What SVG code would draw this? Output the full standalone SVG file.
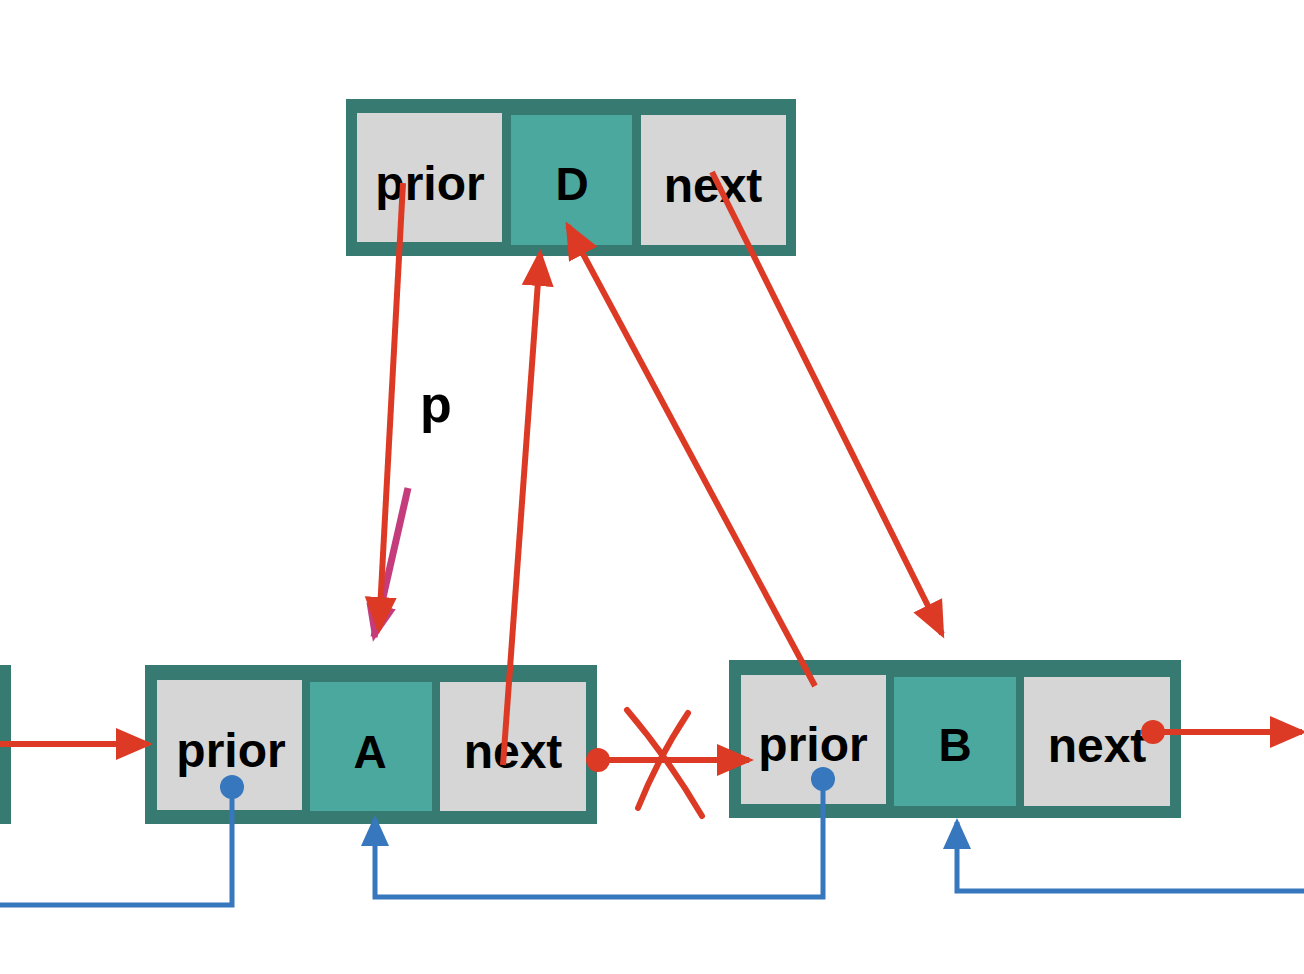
<svg xmlns="http://www.w3.org/2000/svg" width="1304" height="974" viewBox="0 0 1304 974">
<style>
.outer{fill:#367a72}
.cell{fill:#d6d6d6}
.mid{fill:#4aa89e}
.lbl{font-family:"Liberation Sans",Arial,sans-serif;font-weight:bold;font-size:48px;fill:#000;text-anchor:middle}
.key{font-family:"Liberation Sans",Arial,sans-serif;font-weight:bold;font-size:46px;fill:#000;text-anchor:middle}
.red{stroke:#dc3a25;stroke-width:6;fill:none}
.blue{stroke:#3777bd;stroke-width:5;fill:none}
.mag{stroke:#c43c7c;stroke-width:7;fill:none}
</style>
<defs>
<marker id="ar" markerUnits="userSpaceOnUse" markerWidth="38" markerHeight="34" viewBox="0 0 38 34" refX="32" refY="17" orient="auto"><path d="M0,1 L37,17 L0,33 z" fill="#dc3a25"/></marker>
<marker id="am" markerUnits="userSpaceOnUse" markerWidth="38" markerHeight="34" viewBox="0 0 38 34" refX="32" refY="17" orient="auto"><path d="M0,2 L37,17 L0,32 z" fill="#c43c7c"/></marker>
<marker id="ab" markerUnits="userSpaceOnUse" markerWidth="32" markerHeight="30" viewBox="0 0 32 30" refX="27" refY="15" orient="auto"><path d="M0,1 L31,15 L0,29 z" fill="#3777bd"/></marker>
</defs>
<rect width="1304" height="974" fill="#fff"/>
<g id="node-left"><rect class="outer" x="0" y="665" width="11" height="159"/></g>
<g id="node-D">
<rect class="outer" x="346" y="99" width="450" height="157"/>
<rect class="cell" x="357" y="113" width="145" height="129"/>
<rect class="mid" x="511" y="115" width="121" height="130"/>
<rect class="cell" x="641" y="115" width="145" height="130"/>
<text class="lbl" x="430" y="200">prior</text>
<text class="key" x="572" y="200">D</text>
<text class="lbl" x="713" y="202">next</text>
</g>
<g id="node-A">
<rect class="outer" x="145" y="665" width="452" height="159"/>
<rect class="cell" x="157" y="680" width="145" height="130"/>
<rect class="mid" x="310" y="682" width="122" height="129"/>
<rect class="cell" x="440" y="682" width="146" height="129"/>
<text class="lbl" x="231" y="767">prior</text>
<text class="key" x="370" y="768">A</text>
<text class="lbl" x="513" y="768">next</text>
</g>
<g id="node-B">
<rect class="outer" x="729" y="660" width="452" height="158"/>
<rect class="cell" x="741" y="675" width="145" height="129"/>
<rect class="mid" x="894" y="677" width="122" height="129"/>
<rect class="cell" x="1024" y="677" width="146" height="129"/>
<text class="lbl" x="813" y="761">prior</text>
<text class="key" x="955" y="761">B</text>
<text class="lbl" x="1097" y="762">next</text>
</g>
<text id="label-p" x="436" y="422" font-family="Liberation Sans,Arial,sans-serif" font-weight="bold" font-size="52" fill="#000" text-anchor="middle">p</text>
<g id="connectors">
<line class="red" x1="0" y1="744" x2="148" y2="744" marker-end="url(#ar)"/>
<line class="red" x1="598" y1="760" x2="749" y2="760" marker-end="url(#ar)"/>
<circle cx="598" cy="760" r="12" fill="#dc3a25"/>
<path class="red" d="M627,710 Q668,758 702,816 M688,713 Q658,758 638,808" stroke-width="5" stroke-linecap="round"/>
<line class="red" x1="1153" y1="732" x2="1302" y2="732" marker-end="url(#ar)"/>
<circle cx="1153" cy="732" r="12" fill="#dc3a25"/>
<line class="mag" x1="408" y1="488" x2="374" y2="637" marker-end="url(#am)"/>
<line class="red" x1="403" y1="183" x2="379" y2="629" marker-end="url(#ar)"/>
<line class="red" x1="503" y1="765" x2="540" y2="254" marker-end="url(#ar)"/>
<line class="red" x1="815" y1="686" x2="568" y2="226" marker-end="url(#ar)"/>
<line class="red" x1="712" y1="172" x2="942" y2="634" marker-end="url(#ar)"/>
<polyline class="blue" points="232,787 232,905 0,905"/>
<circle cx="232" cy="787" r="12" fill="#3777bd"/>
<polyline class="blue" points="823,779 823,897 375,897 375,819" marker-end="url(#ab)"/>
<circle cx="823" cy="779" r="12" fill="#3777bd"/>
<polyline class="blue" points="1304,891 957,891 957,822" marker-end="url(#ab)"/>
</g>
</svg>
